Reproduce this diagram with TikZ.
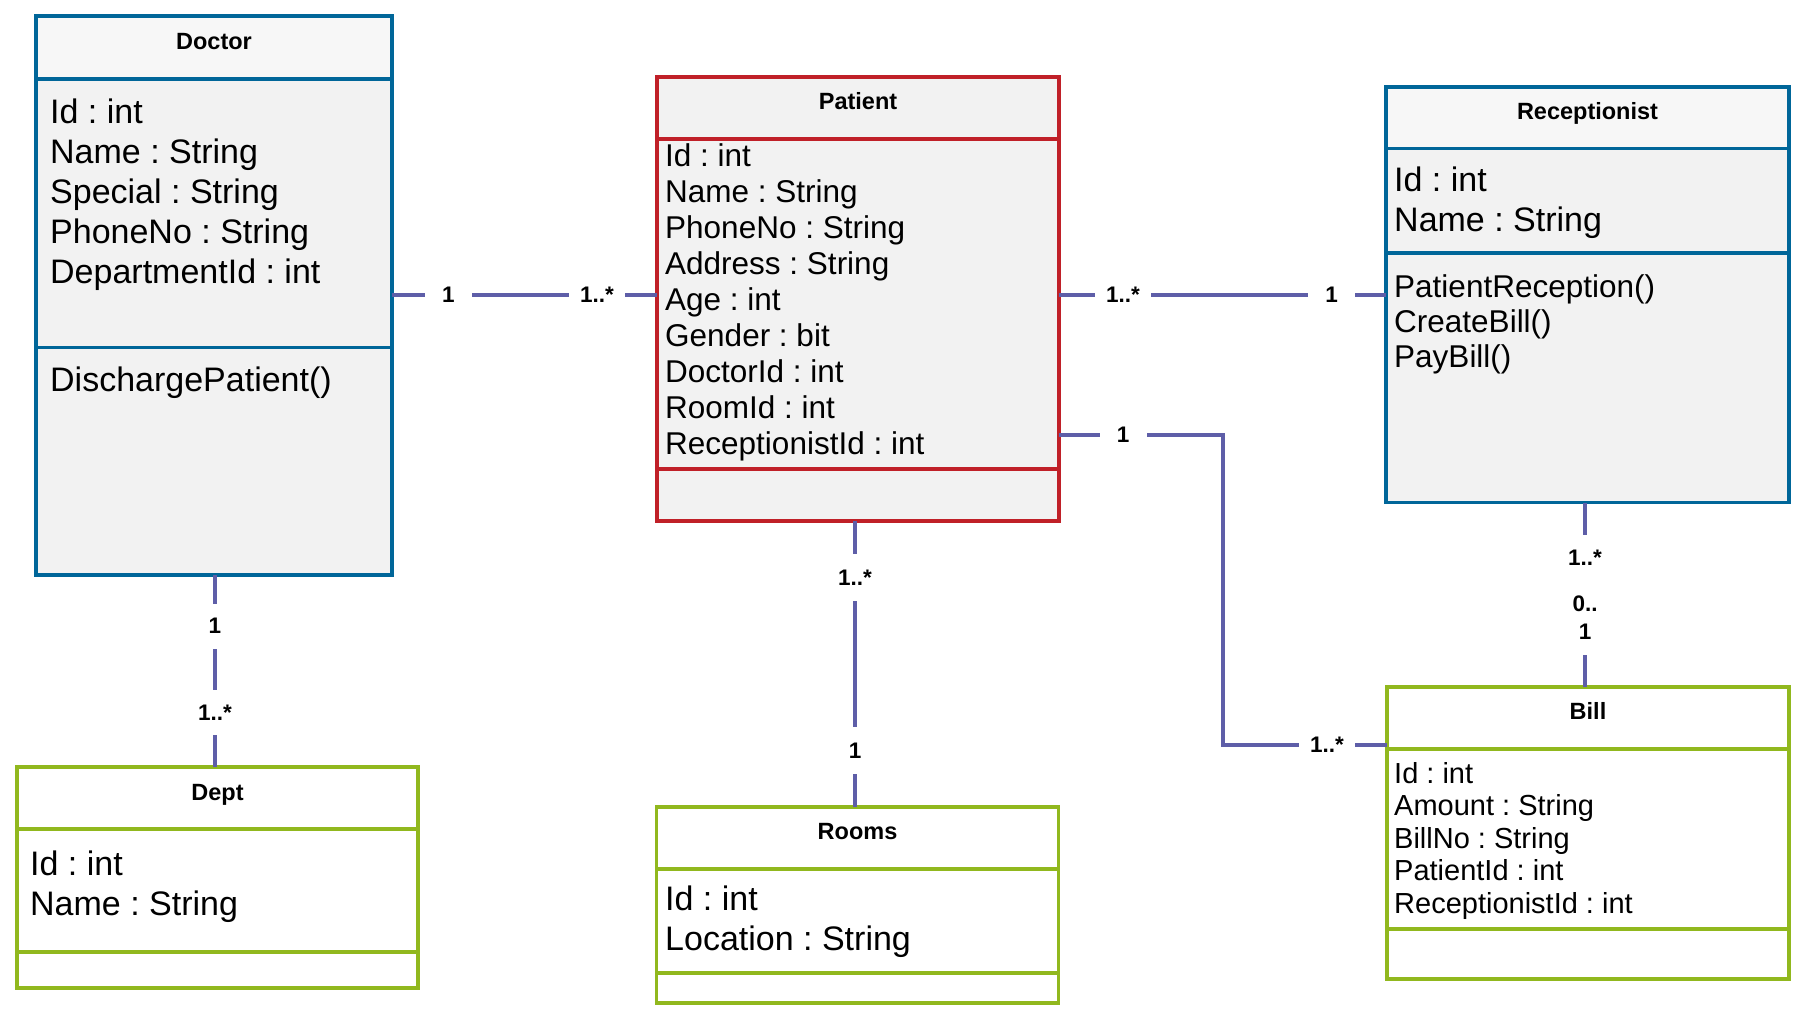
\documentclass[tikz,border=0pt]{standalone}
\usepackage{fontspec}
\setmainfont{Liberation Sans}
\usetikzlibrary{calc}
\frenchspacing
\definecolor{cblue}{RGB}{0,102,153}
\definecolor{cred}{RGB}{192,32,40}
\definecolor{cgreen}{RGB}{145,184,30}
\definecolor{cconn}{RGB}{94,94,168}
\definecolor{bodyfill}{RGB}{242,242,242}
\definecolor{headfill}{RGB}{247,247,247}
\begin{document}
\begin{tikzpicture}[x=1pt,y=-1pt,
  boxline/.style={line width=3.4pt},
  classbox/.style={anchor=north west, inner sep=0pt, outer sep=0pt},
  title/.style={anchor=base, inner sep=0pt, font=\frenchspacing\fontsize{23.5}{28}\selectfont\bfseries},
  attrA/.style={anchor=base west, inner sep=0pt, font=\frenchspacing\fontsize{34}{40}\selectfont},
  attrB/.style={anchor=base west, inner sep=0pt, font=\frenchspacing\fontsize{31.5}{36}\selectfont},
  attrC/.style={anchor=base west, inner sep=0pt, font=\frenchspacing\fontsize{29}{33}\selectfont},
  conn/.style={draw=cconn, line width=3.3pt},
  mult/.style={fill=white, inner xsep=11pt, inner ysep=0pt, minimum width=47pt, minimum height=45pt, font=\fontsize{22.5}{28}\selectfont\bfseries},
]
\fill[white] (0,0) rectangle (1810,1020);
\useasboundingbox (0,0) rectangle (1810,1020);

% ---------- Doctor ----------
\node[classbox, fill=bodyfill, minimum width=356pt, minimum height=559pt] (doc) at (36,16) {};
\fill[headfill] (doc.north west) rectangle (doc.east |- 0,79);
\draw[boxline, cblue] (doc.west |- 0,79) -- (doc.east |- 0,79) (doc.west |- 0,347.5) -- (doc.east |- 0,347.5);
\draw[boxline, cblue] (doc.north west) rectangle (doc.south east);
\node[title] (doct) at (doc.north |- 0,49.5) {Doctor};
\foreach \t [count=\i from 0] in {Id : int, Name : String, Special : String, PhoneNo : String, DepartmentId : int}
  \node[attrA] (doca\i) at (50, 123+40.2*\i) {\t};
\node[attrA] (docm0) at (50,391) {DischargePatient()};

% ---------- Patient ----------
\node[classbox, fill=bodyfill, minimum width=402pt, minimum height=444pt] (pat) at (657,77) {};
\draw[boxline, cred] (pat.west |- 0,139) -- (pat.east |- 0,139) (pat.west |- 0,469) -- (pat.east |- 0,469);
\draw[boxline, cred] (pat.north west) rectangle (pat.south east);
\node[title] (patt) at (pat.north |- 0,109.5) {Patient};
\foreach \t [count=\i from 0] in {Id : int, Name : String, PhoneNo : String, Address : String, Age : int, Gender : bit, DoctorId : int, RoomId : int, ReceptionistId : int}
  \node[attrB] (pata\i) at (665, 166.7+35.95*\i) {\t};

% ---------- Receptionist ----------
\node[classbox, fill=bodyfill, minimum width=403pt, minimum height=415.5pt] (rec) at (1386,87) {};
\fill[headfill] (rec.north west) rectangle (rec.east |- 0,148.5);
\draw[boxline, cblue] (rec.west |- 0,148.5) -- (rec.east |- 0,148.5) (rec.west |- 0,253) -- (rec.east |- 0,253);
\draw[boxline, cblue] (rec.north west) rectangle (rec.south east);
\node[title] (rect) at (rec.north |- 0,119.5) {Receptionist};
\foreach \t [count=\i from 0] in {Id : int, Name : String}
  \node[attrA] (reca\i) at (1394, 191.4+40.1*\i) {\t};
\foreach \t [count=\i from 0] in {PatientReception(), CreateBill(), PayBill()}
  \node[attrB] (recm\i) at (1394, 297+35.2*\i) {\t};

% ---------- Bill ----------
\node[classbox, fill=white, minimum width=402pt, minimum height=292pt] (bill) at (1387,687) {};
\draw[boxline, cgreen] (bill.west |- 0,749) -- (bill.east |- 0,749) (bill.west |- 0,929) -- (bill.east |- 0,929);
\draw[boxline, cgreen] (bill.north west) rectangle (bill.south east);
\node[title] (billt) at (bill.north |- 0,719) {Bill};
\foreach \t [count=\i from 0] in {Id : int, Amount : String, BillNo : String, PatientId : int, ReceptionistId : int}
  \node[attrC] (billa\i) at (1394, 783+32.6*\i) {\t};

% ---------- Dept ----------
\node[classbox, fill=white, minimum width=401pt, minimum height=221pt] (dept) at (17,767) {};
\draw[boxline, cgreen] (dept.west |- 0,829) -- (dept.east |- 0,829) (dept.west |- 0,952) -- (dept.east |- 0,952);
\draw[boxline, cgreen] (dept.north west) rectangle (dept.south east);
\node[title] (deptt) at (dept.north |- 0,800) {Dept};
\foreach \t [count=\i from 0] in {Id : int, Name : String}
  \node[attrA] (depta\i) at (30, 875+40*\i) {\t};

% ---------- Rooms ----------
\node[classbox, fill=white, minimum width=402pt, minimum height=196pt] (room) at (656.5,807) {};
\draw[boxline, cgreen] (room.west |- 0,869) -- (room.east |- 0,869) (room.west |- 0,973) -- (room.east |- 0,973);
\draw[boxline, cgreen] (room.north west) rectangle (room.south east);
\node[title] (roomt) at (room.north |- 0,839) {Rooms};
\foreach \t [count=\i from 0] in {Id : int, Location : String}
  \node[attrA] (rooma\i) at (665, 910+40.7*\i) {\t};

% ---------- Connectors ----------
\draw[conn] (doc.east |- 0,295) -- (pat.west |- 0,295);
\draw[conn] (pat.east |- 0,295) -- (rec.west |- 0,295);
\coordinate (pb1) at (1223,435);
\coordinate (pb2) at (1223,745);
\draw[conn] (pat.east |- pb1) -- (pb1) -- (pb2) -- (bill.west |- pb2);
\draw[conn] (rec.south -| 1585,0) -- (bill.north -| 1585,0);
\draw[conn] (doc.south -| 215,0) -- (dept.north -| 215,0);
\draw[conn] (pat.south -| 855,0) -- (room.north -| 855,0);

% ---------- Multiplicities ----------
\node[mult] (m1) at (448.5,295) {1};
\node[mult] (m2) at (597,295) {1..*};
\node[mult] (m3) at (1123,295) {1..*};
\node[mult] (m4) at (1331.5,295) {1};
\node[mult] (m5) at (1123,435) {1};
\node[mult] (m6) at (1327,745) {1..*};
\node[mult, minimum height=46pt] (m7) at (1585,557.5) {1..*};
\node[mult, minimum height=74pt, align=center, font=\fontsize{22.5}{28}\selectfont\bfseries] (m8) at (1585,618) {0..\\1};
\node[mult] (m9) at (215,626) {1};
\node[mult] (m10) at (215,712.5) {1..*};
\node[mult, minimum height=47pt] (m11) at (855,577.5) {1..*};
\node[mult, minimum height=47pt] (m12) at (855,750.5) {1};
\end{tikzpicture}
\end{document}
